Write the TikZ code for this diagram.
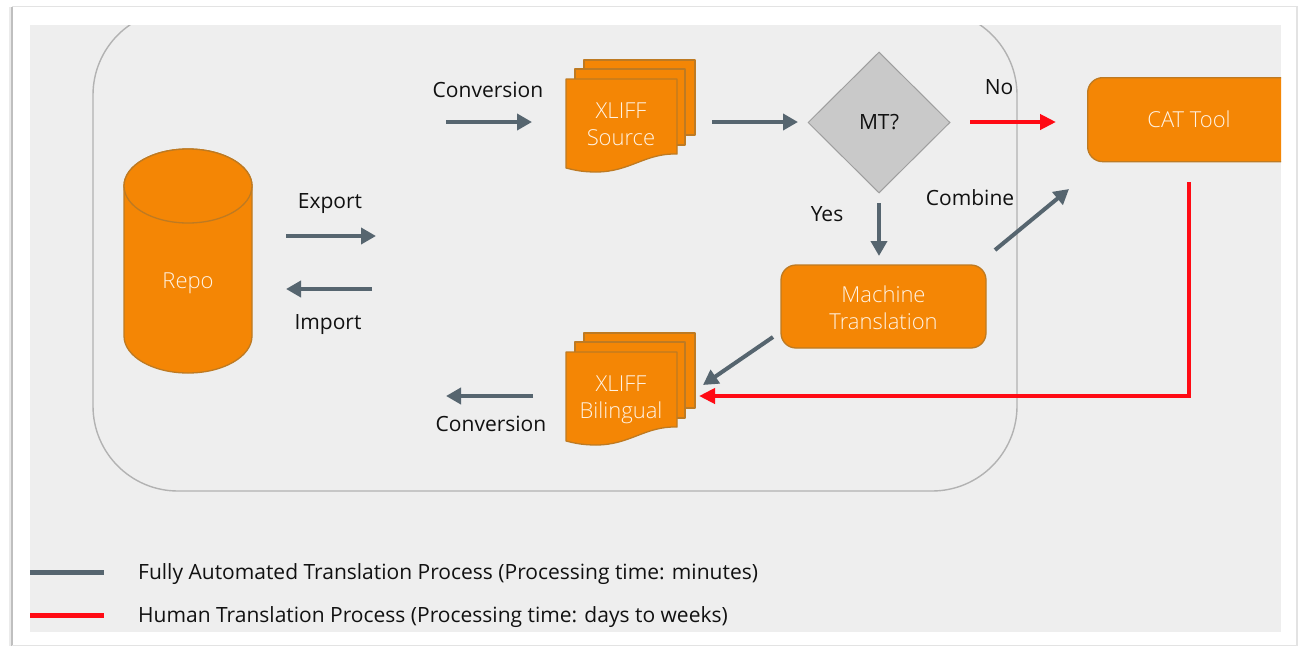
\documentclass[tikz,border=0pt]{standalone}
\usepackage{fontspec}
\setmainfont{Open Sans}
\newfontfamily\boxfont{Open Sans Light}
\usetikzlibrary{arrows.meta,shapes.geometric}
\definecolor{panel}{HTML}{EEEEEE}
\definecolor{orangefill}{HTML}{F48605}
\definecolor{orangeedge}{HTML}{BE7A22}
\definecolor{slatearrow}{HTML}{56656F}
\definecolor{redarrow}{HTML}{FF0A14}
\definecolor{textdark}{HTML}{111111}
\definecolor{boxtext}{HTML}{FFF3E4}
\tikzset{
  lab/.style={font=\fontsize{21}{25}\selectfont,text=textdark,inner sep=0pt},
  boxlab/.style={font=\boxfont\fontsize{22}{27}\selectfont,text=boxtext,inner sep=0pt,align=center},
  pagefill/.style={fill=orangefill,draw=orangeedge,line width=1.3pt,line join=round},
  roundbox/.style={pagefill,rounded corners=15pt},
  autoflow/.style={draw=slatearrow,line width=4pt,-{Triangle[length=15pt,width=16pt]}},
  humanflow/.style={draw=redarrow,line width=4pt,-{Triangle[length=16pt,width=15pt]}},
}
\newcommand{\docstack}[2]{% x offset, y offset
  \begin{scope}[shift={(#1,#2)}]
    \draw[pagefill] (584,60) -- (695,60) -- (695,135) -- (584,135) -- cycle;
    \draw[pagefill] (575,69) -- (685,69) -- (685,145) -- (575,145) -- cycle;
    \draw[pagefill] (566,79) -- (677,79) -- (677,154)
      .. controls (645,153) and (630,172) .. (596,172)
      .. controls (582,172) and (574,170) .. (566,168) -- cycle;
  \end{scope}
}
\begin{document}
\begin{tikzpicture}[x=1pt,y=-1pt]
\useasboundingbox (0,0) rectangle (1298,646);
% sheet outline
\fill[white] (0,0) rectangle (1298,646);
\draw[black!8,line width=3pt] (10.5,646) -- (10.5,7);
\draw[black!25,line width=1.4pt] (12,646) -- (12,7);
\draw[black!11,line width=1.4pt] (12,6.5) -- (1297,6.5) -- (1297,645.5) -- (12,645.5);
% panel
\fill[panel] (30,25) rectangle (1281,632);
% automated region
\begin{scope}
  \clip (30,25) rectangle (1281,632);
  \draw[black!30,line width=1.4pt,rounded corners=85pt] (93,10) rectangle (1017,491);
  % CAT tool
  \node[roundbox,minimum width=240pt,minimum height=84pt,anchor=north west,inner sep=0pt] (cat) at (1087,77) {};
\end{scope}
\node[boxlab] (catlab) at (1189,119.5) {CAT Tool};
% Repo cylinder
\draw[pagefill] (124,186) -- (124,336) arc[start angle=180,end angle=0,x radius=64,y radius=37] -- (252,186)
  arc[start angle=0,end angle=-180,x radius=64,y radius=37] -- cycle;
\draw[pagefill] (188,186) ellipse[x radius=64,y radius=37];
\node[boxlab] (repo) at (188,283) {Repo};
% documents
\docstack{0}{0}
\node[boxlab] (src) at (621,124) {XLIFF\\Source};
\docstack{0}{273}
\node[boxlab] (bil) at (621,400) {XLIFF\\Bilingual};
% MT diamond
\node[diamond,draw=black!38,fill=black!21,line width=1pt,minimum width=142pt,minimum height=141pt,inner sep=0pt,font=\fontsize{21}{25}\selectfont,text=textdark] (mt) at (879,122.5) {MT?};
% Machine translation
\node[roundbox,minimum width=205pt,minimum height=83pt,inner sep=0pt] (mach) at (883.5,306.5) {};
\node[boxlab] (machlab) at (883.5,307.5) {Machine\\Translation};
% connector ends
\coordinate (c1a) at (446,122); \coordinate (c1b) at (532,122);
\coordinate (sa) at (712,122); \coordinate (sb) at (798,122);
\coordinate (ya) at (879,203); \coordinate (yb) at (879,256);
\coordinate (na) at (970,122); \coordinate (nb) at (1056,122);
\coordinate (ca) at (995,250); \coordinate (cb) at (1069,189);
\coordinate (ea) at (286,236); \coordinate (eb) at (376,236);
\coordinate (ia) at (372,289); \coordinate (ib) at (286,289);
\coordinate (ma) at (773,337); \coordinate (mb) at (703,385);
\coordinate (c2a) at (533,396); \coordinate (c2b) at (446,396);
\coordinate (ra) at (1189,182); \coordinate (rc) at (1189,396); \coordinate (rb) at (699,396);
\coordinate (l1a) at (30,572); \coordinate (l1b) at (104,572);
\coordinate (l2a) at (30,615); \coordinate (l2b) at (104,615);
% connectors
\draw[autoflow] (c1a) -- (c1b);
\draw[autoflow] (sa) -- (sb);
\draw[autoflow] (ya) -- (yb);
\draw[humanflow] (na) -- (nb);
\draw[autoflow] (ca) -- (cb);
\draw[autoflow] (ea) -- (eb);
\draw[autoflow] (ia) -- (ib);
\draw[autoflow] (ma) -- (mb);
\draw[autoflow] (c2a) -- (c2b);
\draw[humanflow,line join=miter] (ra) -- (rc) -- (rb);
\draw[slatearrow,line width=5pt] (l1a) -- (l1b);
\draw[redarrow,line width=5pt] (l2a) -- (l2b);
% labels
\node[lab] (tconv1) at (488,90) {Conversion};
\node[lab] (tconv2) at (491,424) {Conversion};
\node[lab] (texp) at (330,204) {Export};
\node[lab] (timp) at (328,325) {Import};
\node[lab] (tyes) at (827,214) {Yes};
\node[lab] (tno) at (999,87) {No};
\node[lab] (tcomb) at (970,198) {Combine};
\node[lab,anchor=west] (leg1) at (138,574) {Fully Automated Translation Process (Processing time: minutes)};
\node[lab,anchor=west] (leg2) at (138,617) {Human Translation Process (Processing time: days to weeks)};
\end{tikzpicture}
\end{document}
